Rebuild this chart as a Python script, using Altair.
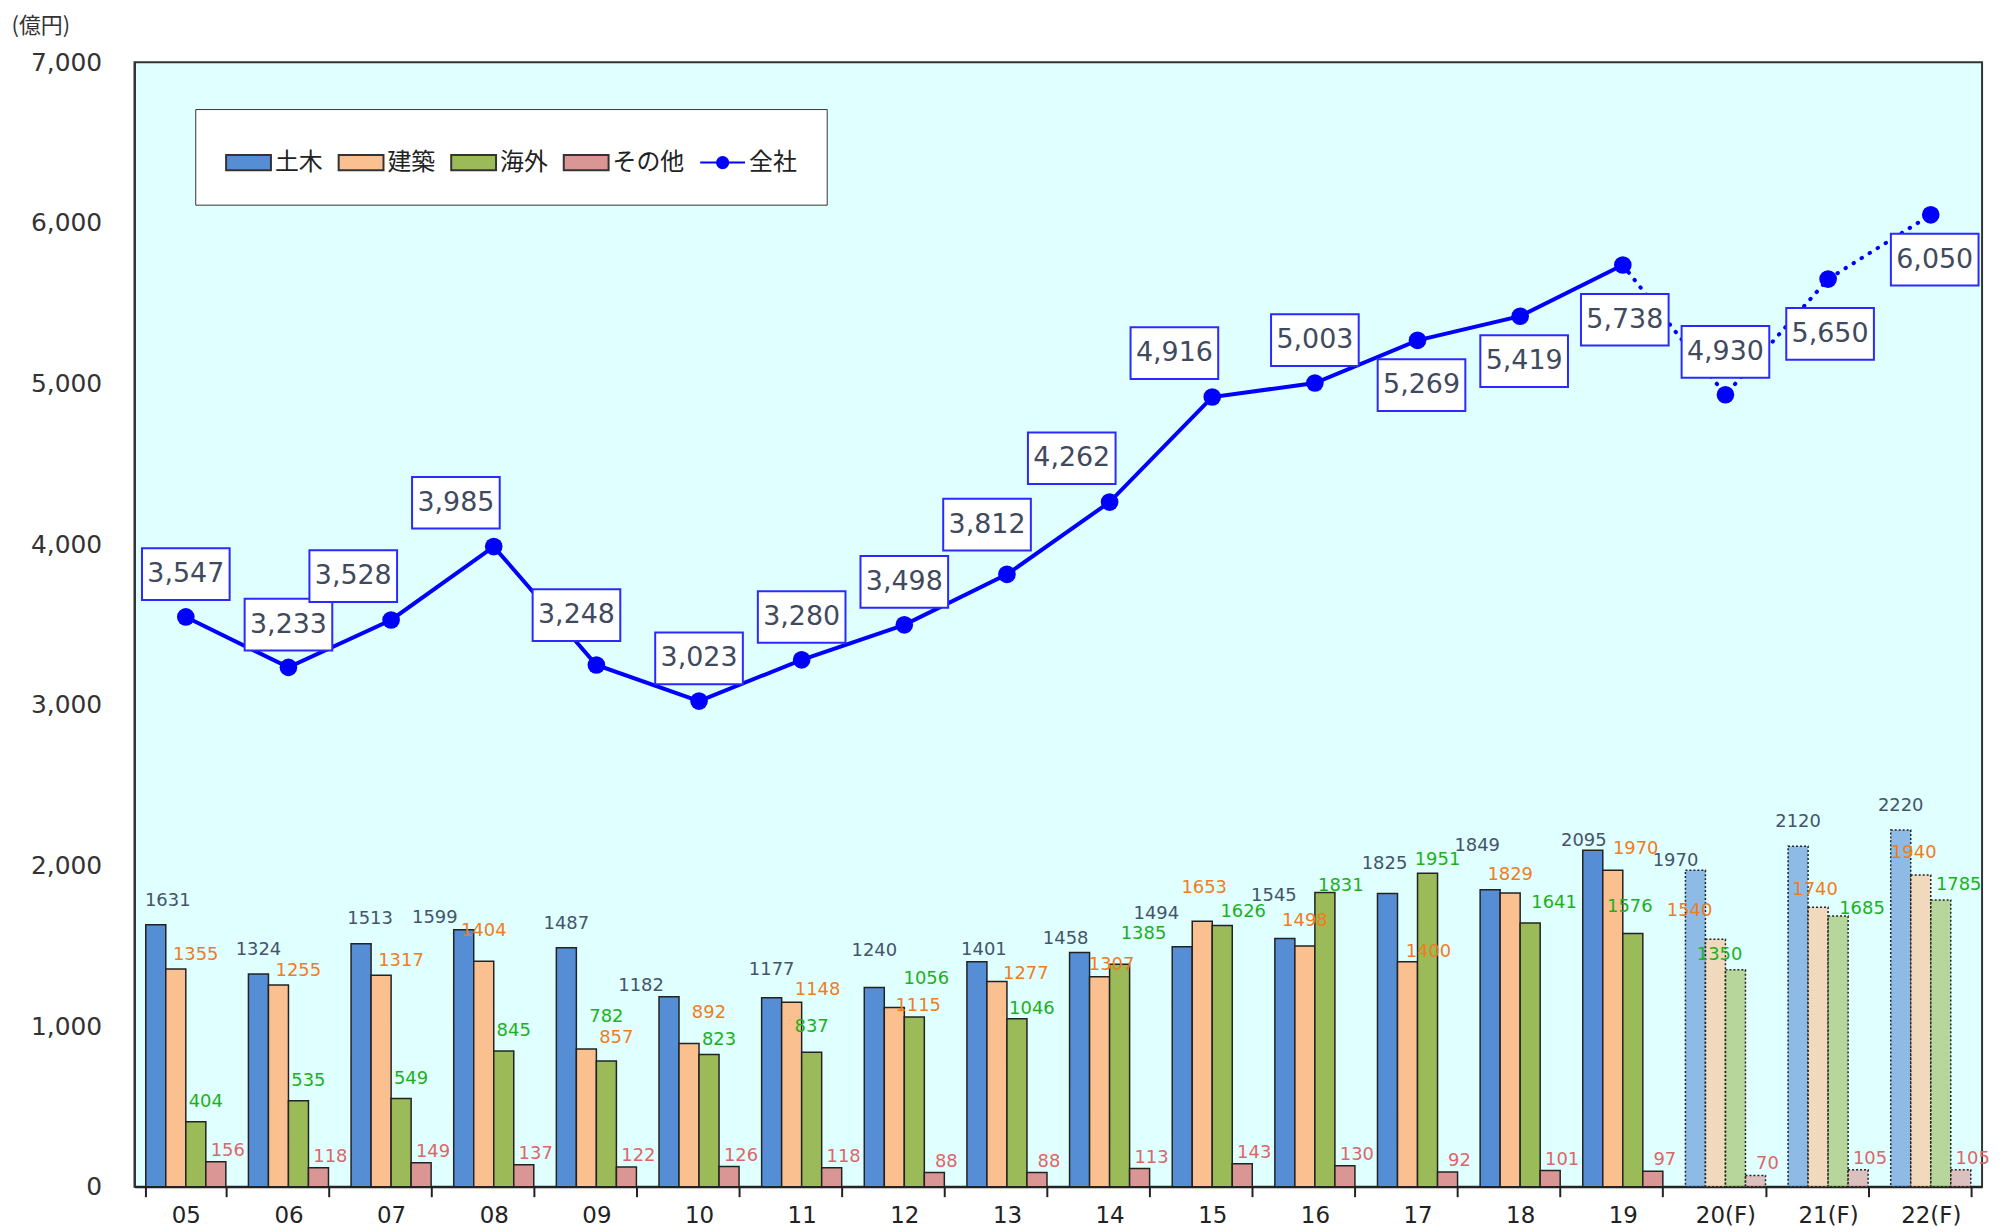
import altair as alt
import pandas as pd

# ---------------- data ----------------
years = ["05", "06", "07", "08", "09", "10", "11", "12", "13", "14", "15", "16",
         "17", "18", "19", "20(F)", "21(F)", "22(F)"]
series = ["土木", "建築", "海外", "その他"]
doboku = [1631, 1324, 1513, 1599, 1487, 1182, 1177, 1240, 1401, 1458, 1494, 1545,
          1825, 1849, 2095, 1970, 2120, 2220]
kenchiku = [1355, 1255, 1317, 1404, 857, 892, 1148, 1115, 1277, 1307, 1653, 1498,
            1400, 1829, 1970, 1540, 1740, 1940]
kaigai = [404, 535, 549, 845, 782, 823, 837, 1056, 1046, 1385, 1626, 1831,
          1951, 1641, 1576, 1350, 1685, 1785]
sonota = [156, 118, 149, 137, 122, 126, 118, 88, 88, 113, 143, 130,
          92, 101, 97, 70, 105, 105]
zensha = [3547, 3233, 3528, 3985, 3248, 3023, 3280, 3498, 3812, 4262, 4916, 5003,
          5269, 5419, 5738, 4930, 5650, 6050]
is_forecast = [False] * 15 + [True] * 3
# where the total's label box sits relative to its point
label_place = ["上", "上", "左上", "左上", "やや左上", "上", "上", "上", "やや左上",
               "左上", "左上", "上", "下", "下", "下下", "上", "下下", "下"]

# ---------------- styles ----------------
bar_colors = ["#558ED5", "#FAC090", "#9BBB59", "#D99694"]
text_colors = ["#44546A", "#F07C1E", "#1DB01D", "#DD6668"]
# default label offset (px) per series, plus hand nudges like in the original
text_offsets = {"土木": (0, -24), "建築": (20, -14), "海外": (10, -20), "その他": (12, -11)}
label_nudge = {
    ("05", "土木"): (12, -24), ("07", "土木"): (9, -25),
    ("08", "土木"): (-29, -12), ("08", "建築"): (0, -30),
    ("09", "建築"): (30, -11), ("09", "海外"): (0, -44),
    ("10", "土木"): (-28, -11), ("10", "建築"): (20, -31), ("10", "海外"): (10, -15),
    ("11", "土木"): (0, -28), ("11", "建築"): (26, -12), ("11", "海外"): (0, -25),
    ("12", "土木"): (0, -37), ("12", "建築"): (24, -2), ("12", "海外"): (12, -38),
    ("13", "土木"): (7, -12), ("13", "建築"): (29, -8), ("13", "海外"): (15, -10),
    ("14", "土木"): (-14, -14), ("14", "建築"): (12, -12), ("14", "海外"): (24, -30),
    ("15", "土木"): (-26, -33), ("15", "建築"): (2, -33), ("15", "海外"): (21, -14),
    ("16", "土木"): (-11, -43), ("16", "建築"): (0, -25), ("16", "海外"): (16, -7),
    ("17", "土木"): (-3, -30), ("17", "建築"): (21, -10), ("17", "海外"): (10, -13),
    ("18", "土木"): (-13, -44), ("18", "建築"): (0, -18), ("18", "海外"): (24, -20),
    ("19", "土木"): (-9, -9), ("19", "建築"): (23, -21), ("19", "海外"): (-3, -27),
    ("20(F)", "土木"): (-20, -9), ("20(F)", "建築"): (-26, -28), ("20(F)", "海外"): (-16, -15),
    ("21(F)", "建築"): (-3, -17), ("21(F)", "海外"): (24, -7),
    ("22(F)", "建築"): (-7, -22), ("22(F)", "海外"): (18, -15),
}
place_offsets = {"上": (0, -43), "左上": (-38, -44), "やや左上": (-20, -50),
                 "下": (4, 45), "下下": (2, 55)}
LINE_BLUE = "#0000FF"
NUM_FONT = "DejaVu Sans"
JP_FONT = "Noto Sans CJK JP"

legend_domain = series + ["全社"]
legend_range = bar_colors + [LINE_BLUE]
legend_stroke = ["#333"] * 4 + [LINE_BLUE]
rect_path = "M-1,-0.34H1V0.34H-1Z"
line_path = "M-1,0H1M-0.25,0A0.25,0.25,0,1,1,0.25,0A0.25,0.25,0,1,1,-0.25,0Z"
shape_range = [rect_path] * 4 + [line_path]
box_path = "M-1,-0.59H1V0.59H-1Z"

# ---------------- tables ----------------
rows = []
for i, y in enumerate(years):
    for s, vals in zip(series, [doboku, kenchiku, kaigai, sonota]):
        dx, dy = label_nudge.get((y, s), text_offsets[s])
        rows.append({"year": y, "series": s, "value": vals[i],
                     "forecast": is_forecast[i], "idx": i, "dx": dx, "dy": dy})
bar_df = pd.DataFrame(rows)

tot_df = pd.DataFrame({"year": years, "value": zensha, "idx": list(range(len(years))),
                       "place": label_place, "series": ["全社"] * len(years)})

# ---------------- encodings ----------------
X = alt.X("year:N", sort=years,
          scale=alt.Scale(paddingInner=0.22, paddingOuter=0.11),
          axis=alt.Axis(title=None, labelAngle=0, labelFontSize=23, labelFont=NUM_FONT,
                        labelColor="#222", tickBand="extent", tickSize=10, tickColor="#222",
                        tickWidth=2, domainColor="#222", domainWidth=2, labelPadding=8,
                        grid=False))
Y = alt.Y("value:Q", scale=alt.Scale(domain=[0, 7000]),
          axis=alt.Axis(values=list(range(0, 7001, 1000)), format=",d", labelFontSize=25,
                        labelFont=NUM_FONT, labelColor="#333", ticks=False, domain=True,
                        domainColor="#333", domainWidth=2, grid=False, labelPadding=33,
                        title="(億円)", titleAngle=0, titleX=-124, titleY=-37,
                        titleAlign="left", titleBaseline="middle", titleFontSize=22,
                        titleFont=JP_FONT, titleFontWeight="normal", titleColor="#333"))
XOFF = alt.XOffset("series:N", sort=series,
                   scale=alt.Scale(domain=series, paddingInner=0, paddingOuter=0))

legend = alt.Legend(orient="none", legendX=61, legendY=47, direction="horizontal",
                    columns=5, title=None, fillColor="white", strokeColor="#333",
                    padding=30, labelFontSize=24, labelFont=JP_FONT, labelColor="#222",
                    symbolSize=2025, symbolOpacity=1, symbolStrokeWidth=2,
                    columnPadding=12, labelOffset=3)

color_scale = alt.Scale(domain=legend_domain, range=legend_range)

bars = alt.Chart(bar_df).mark_bar(stroke="#222", strokeWidth=1.5).encode(
    x=X, xOffset=XOFF, y=Y,
    color=alt.Color("series:N", scale=color_scale, legend=legend),
    fillOpacity=alt.condition("datum.forecast", alt.value(0.6), alt.value(1.0)),
    strokeDash=alt.condition("datum.forecast", alt.value([2, 2]), alt.value([1, 0])),
)

layers = [bars]
for s, c in zip(series, text_colors):
    layers.append(
        alt.Chart(bar_df).transform_filter(alt.datum.series == s)
        .mark_text(color=c, dx=alt.ExprRef(expr="datum.dx"), dy=alt.ExprRef(expr="datum.dy"),
                   fontSize=18, font=NUM_FONT, baseline="middle")
        .encode(x=X, xOffset=XOFF, y=Y, text="value:Q")
    )

line_actual = alt.Chart(tot_df).transform_filter("datum.idx <= 14").mark_line(
    color=LINE_BLUE, strokeWidth=4).encode(x=X, y=Y)
line_fc = alt.Chart(tot_df).transform_filter("datum.idx >= 14").mark_line(
    color=LINE_BLUE, strokeWidth=4, strokeDash=[0.5, 9], strokeCap="round").encode(x=X, y=Y)
pts = alt.Chart(tot_df).mark_circle(color=LINE_BLUE, size=314, opacity=1).encode(x=X, y=Y)
legend_dummy = alt.Chart(tot_df).mark_point(filled=True, opacity=0).encode(
    x=X, y=Y,
    color=alt.Color("series:N", scale=color_scale, legend=legend),
    stroke=alt.Stroke("series:N", scale=alt.Scale(domain=legend_domain, range=legend_stroke),
                      legend=legend),
    shape=alt.Shape("series:N", scale=alt.Scale(domain=legend_domain, range=shape_range),
                    legend=legend),
)
layers += [line_actual, line_fc, pts, legend_dummy]

for place, (dx, dy) in place_offsets.items():
    sub = alt.Chart(tot_df).transform_filter(alt.datum.place == place)
    layers.append(sub.mark_point(shape=box_path, size=7744, filled=True, fill="white",
                                 stroke="#2A2AFF", strokeWidth=2, opacity=1,
                                 xOffset=dx, yOffset=dy).encode(x=X, y=Y))
    layers.append(sub.mark_text(dx=dx, dy=dy, fontSize=27, font=NUM_FONT, color="#3F4A5E",
                                baseline="middle").encode(
        x=X, y=Y, text=alt.Text("value:Q", format=",")))

chart = alt.layer(*layers).properties(
    width=1855, height=1129,
    padding={"left": 127, "top": 52, "right": 14, "bottom": 43},
    autosize=alt.AutoSizeParams(type="none"),
    background="white",
).configure_view(fill="#E0FFFF", stroke="#333", strokeWidth=2)

chart.save("out.html", embed_options={"renderer": "svg", "actions": False})
